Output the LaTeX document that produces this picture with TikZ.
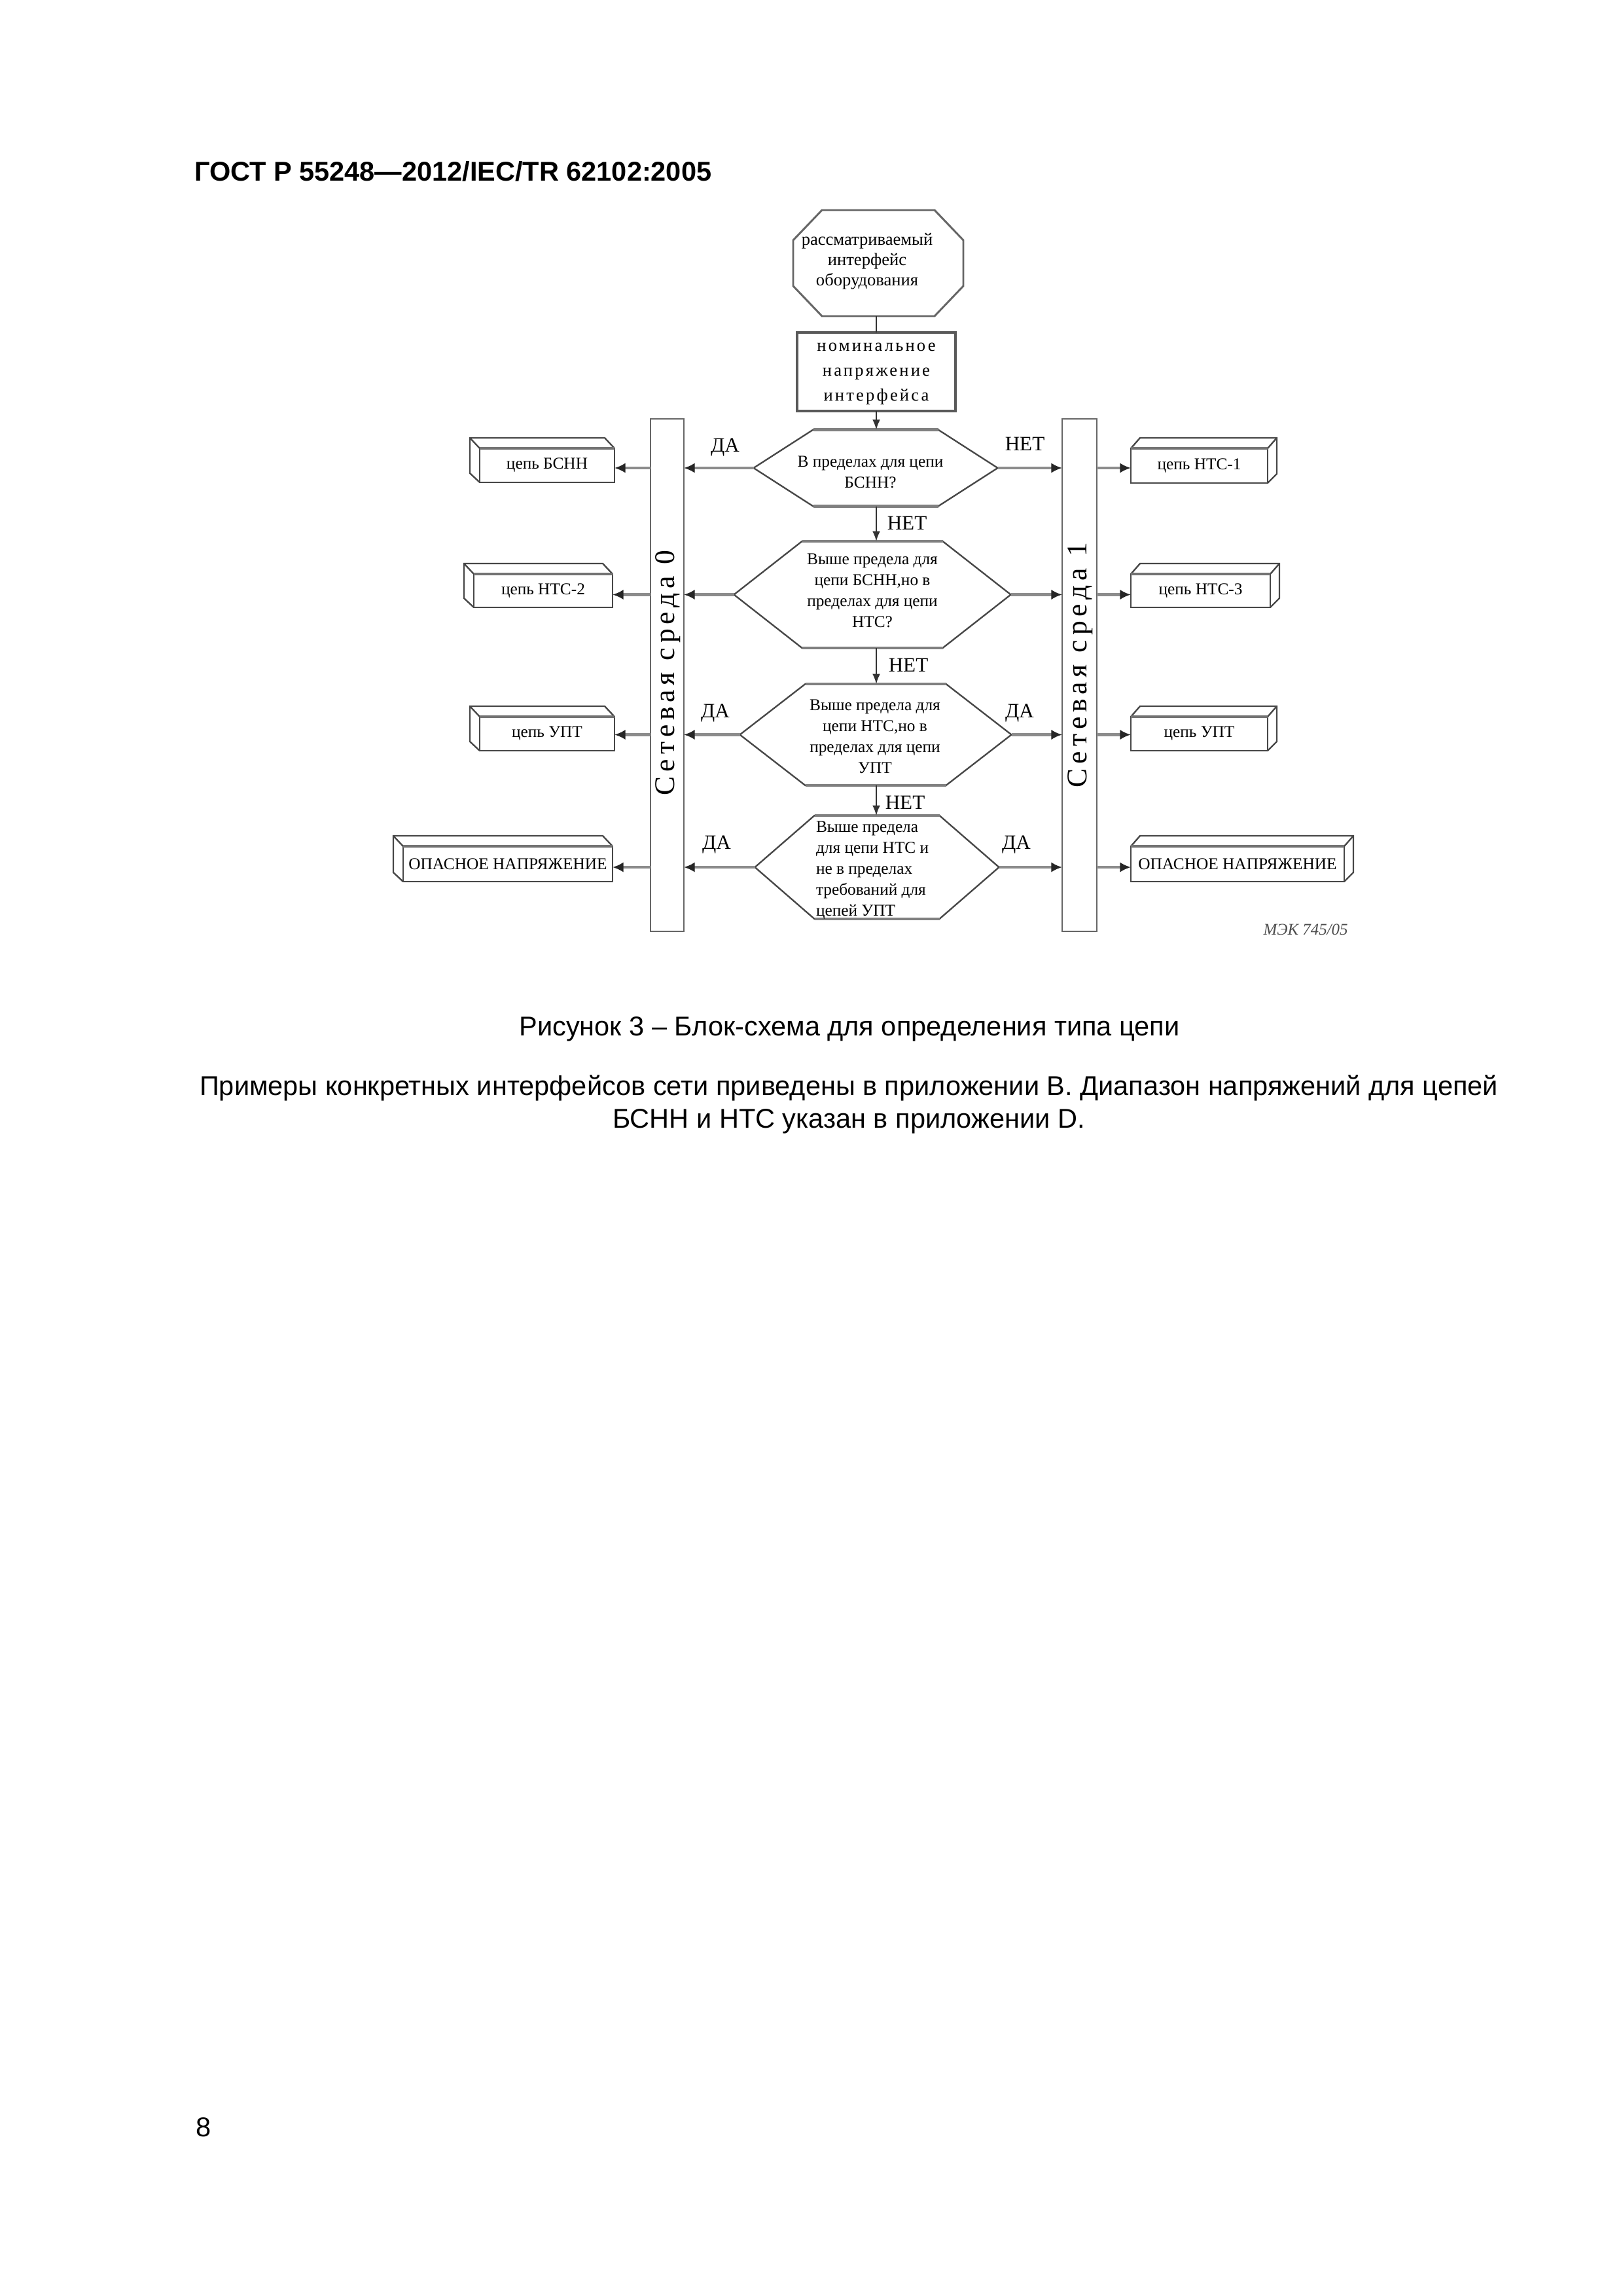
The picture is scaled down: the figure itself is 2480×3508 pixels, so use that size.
\documentclass[tikz,border=0pt]{standalone}
\usepackage{fontspec}
\setmainfont{Liberation Serif}
\newfontfamily\arialfont{Liberation Sans}
\newfontfamily\spacedfont[LetterSpace=12]{Liberation Serif}
\newfontfamily\barfont[LetterSpace=16]{Liberation Serif}
\usetikzlibrary{arrows.meta,calc}
\def\pxu{0.0846667mm}
\newcommand\drawhex[2]{%
  \draw[hexline] (#1.west) -- ($(#1.north west)+(#2,0)$) -- ($(#1.north east)+(-#2,0)$) -- (#1.east)
     -- ($(#1.south east)+(-#2,0)$) -- ($(#1.south west)+(#2,0)$) -- cycle;
  \draw[hexedge] ($(#1.north west)+(#2,0)$) -- ($(#1.north east)+(-#2,0)$);
  \draw[hexedge] ($(#1.south west)+(#2,0)$) -- ($(#1.south east)+(-#2,0)$);}
\newcommand\drawleftbox[1]{%
  \draw[boxline] (#1.north west) rectangle (#1.south east);
  \draw[boxline] (#1.south west) -- ++(-15,-14) -- ($(#1.north west)+(-15,-16)$) -- ($(#1.north east)+(-15,-16)$) -- (#1.north east);
  \draw[boxline] (#1.north west) -- ++(-15,-16);
  \draw[boxedge] (#1.north west) -- (#1.north east);}
\newcommand\drawrightbox[1]{%
  \draw[boxline] (#1.north west) rectangle (#1.south east);
  \draw[boxline] (#1.south east) -- ++(14,-14) -- ($(#1.north east)+(14,-16)$) -- ($(#1.north west)+(14,-16)$) -- (#1.north west);
  \draw[boxline] (#1.north east) -- ++(14,-16);
  \draw[boxedge] (#1.north west) -- (#1.north east);}
\begin{document}
\begin{tikzpicture}[x=0.0846667mm,y=-0.0846667mm,
  every node/.style={inner sep=0pt,outer sep=0pt},
  frame/.style 2 args={rectangle,draw=none,minimum width=#1*\pxu,minimum height=#2*\pxu},
  hexline/.style={draw=black!72,line width=0.2mm},
  hexedge/.style={draw=black!50,line width=0.42mm},
  boxline/.style={draw=black!72,line width=0.2mm},
  boxedge/.style={draw=black!55,line width=0.42mm},
  barline/.style={draw=black!60,line width=0.17mm},
  dtext/.style={font=\fontsize{6.1}{7.7}\selectfont,align=center},
  lbl/.style={font=\fontsize{7.5}{9}\selectfont},
  harrow/.style={draw=black!45,line width=0.4mm,-{Latex[length=1.4mm,width=1.3mm,color=black!85]}},
  varrow/.style={draw=black!80,line width=0.15mm,-{Latex[length=1.3mm,width=1.0mm]}},
  plain/.style={draw=black!80,line width=0.15mm},
  pagetext/.style={font=\arialfont\fontsize{10}{12}\selectfont}
]
\fill[white] (0,0) rectangle (2480,3508);
\useasboundingbox (0,0) rectangle (2480,3508);

% page texts
\node[pagetext,font=\arialfont\bfseries\fontsize{10}{12}\selectfont,anchor=base west] (hdr) at (297,276) {ГОСТ Р 55248—2012/IEC/TR 62102:2005};
\node[pagetext,anchor=base] (cap) at (1298,1582) {Рисунок 3 – Блок-схема для определения типа цепи};
\node[pagetext,anchor=base] (body1) at (1297,1673) {Примеры конкретных интерфейсов сети приведены в приложении В. Диапазон напряжений для цепей};
\node[pagetext,anchor=base] (body2) at (1297,1723) {БСНН и НТС указан в приложении D.};
\node[pagetext,anchor=base west] (pnum) at (299,3264) {8};

% octagon
\node[frame={260}{162}] (oct) at (1342,402) {};
\draw[draw=black!60,line width=0.25mm]
  ($(oct.north west)+(44,0)$) -- ($(oct.north east)+(-44,0)$) -- ($(oct.north east)+(0,46)$)
  -- ($(oct.south east)+(0,-46)$) -- ($(oct.south east)+(-44,0)$) -- ($(oct.south west)+(44,0)$)
  -- ($(oct.south west)+(0,-46)$) -- ($(oct.north west)+(0,46)$) -- cycle;
\node[font=\fontsize{6.4}{7.5}\selectfont,align=center] (octt) at (1325,399) {рассматриваемый\\интерфейс\\оборудования};

% nominal voltage rectangle
\node[frame={242}{120},draw=black!65,line width=0.35mm] (nom) at (1339,568) {};
\node[font=\spacedfont\fontsize{6.4}{9.2}\selectfont,align=center] (nomt) at (1339,571) {номинальное\\напряжение\\интерфейса};

% hexagons
\node[frame={373}{117}] (h1) at (1338,715) {};
\node[frame={423}{163}] (h2) at (1333,908.5) {};
\node[frame={415}{155}] (h3) at (1338,1122.5) {};
\node[frame={373}{158}] (h4) at (1340,1325) {};
\drawhex{h1}{91}
\drawhex{h2}{104}
\drawhex{h3}{100}
\drawhex{h4}{91}
\node[dtext] (h1t) at (1330,721) {В пределах для цепи\\БСНН?};
\node[dtext] (h2t) at (1333,902) {Выше предела для\\цепи БСНН,но в\\пределах для цепи\\НТС?};
\node[dtext] (h3t) at (1337,1125) {Выше предела для\\цепи НТС,но в\\пределах для цепи\\УПТ};
\node[dtext,align=left,anchor=west] (h4t) at (1247,1330) {Выше предела\\для цепи НТС и\\не в пределах\\требований для\\цепей УПТ};

% bars
\node[frame={51}{783},barline] (barL) at (1019.5,1031.5) {};
\node[frame={53}{783},barline] (barR) at (1649.5,1031.5) {};
\node[rotate=90,font=\barfont\fontsize{10.5}{12}\selectfont] (barLt) at (1021,1028) {Сетевая среда 0};
\node[rotate=90,font=\barfont\fontsize{10.5}{12}\selectfont] (barRt) at (1651,1016) {Сетевая среда 1};

% result boxes
\node[frame={206}{52}] (L1) at (836,711) {};
\node[frame={212}{51}] (L2) at (830,902.5) {};
\node[frame={206}{52}] (L3) at (836,1121) {};
\node[frame={320}{54}] (L4) at (776,1320) {};
\node[frame={209}{53}] (R1) at (1832.5,711.5) {};
\node[frame={213}{51}] (R2) at (1834.5,902.5) {};
\node[frame={209}{52}] (R3) at (1832.5,1121) {};
\node[frame={326}{54}] (R4) at (1891,1320) {};
\drawleftbox{L1}\drawleftbox{L2}\drawleftbox{L3}\drawleftbox{L4}
\drawrightbox{R1}\drawrightbox{R2}\drawrightbox{R3}\drawrightbox{R4}
\node[dtext] (L1t) at (L1) {цепь БСНН};
\node[dtext] (L2t) at (L2) {цепь НТС-2};
\node[dtext] (L3t) at (L3) {цепь УПТ};
\node[dtext] (L4t) at (L4) {ОПАСНОЕ НАПРЯЖЕНИЕ};
\node[dtext] (R1t) at (R1) {цепь НТС-1};
\node[dtext] (R2t) at (R2) {цепь НТС-3};
\node[dtext] (R3t) at (R3) {цепь УПТ};
\node[dtext] (R4t) at (R4) {ОПАСНОЕ НАПРЯЖЕНИЕ};

% vertical connectors
\draw[plain] (nom.north) -- (nom.north |- oct.south);
\draw[varrow] (nom.south) -- (nom.south |- h1.north);
\draw[varrow] (nom.south |- h1.south) -- (nom.south |- h2.north);
\draw[varrow] (nom.south |- h2.south) -- (nom.south |- h3.north);
\draw[varrow] (nom.south |- h3.south) -- (nom.south |- h4.north);

% horizontal connectors
\foreach \h/\l/\r in {h1/L1/R1,h2/L2/R2,h3/L3/R3,h4/L4/R4}{
  \draw[harrow] (\h.west) -- (barL.east |- \h.west);
  \draw[harrow] (barL.west |- \h.west) -- (\l.east |- \h.west);
  \draw[harrow] (\h.east) -- (barR.west |- \h.east);
  \draw[harrow] (barR.east |- \h.east) -- (\r.west |- \h.east);
}

% labels
\node[lbl] (y1) at (1108,684) {ДА};
\node[lbl] (n1) at (1566,678) {НЕТ};
\node[lbl] (n2) at (1386,799) {НЕТ};
\node[lbl] (n3) at (1388,1016) {НЕТ};
\node[lbl] (n4) at (1383,1226) {НЕТ};
\node[lbl] (y3l) at (1093,1090) {ДА};
\node[lbl] (y3r) at (1558,1090) {ДА};
\node[lbl] (y4l) at (1095,1291) {ДА};
\node[lbl] (y4r) at (1553,1291) {ДА};

\node[font=\itshape\fontsize{6}{7}\selectfont,text=black!70] (iec) at (1995,1420) {МЭК 745/05};
\end{tikzpicture}
\end{document}
